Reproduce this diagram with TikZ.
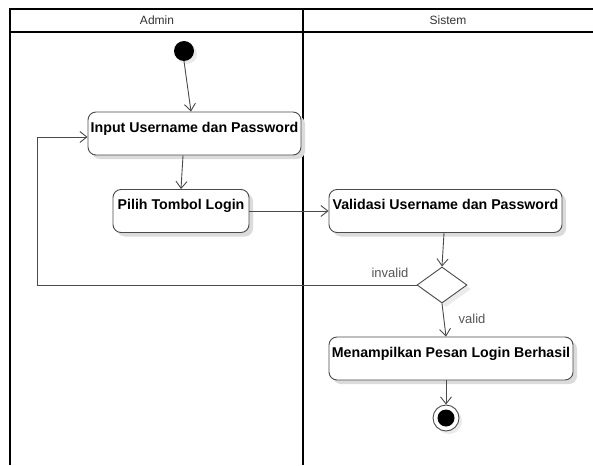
\documentclass[tikz,border=0pt]{standalone}
\usepackage{fontspec}
\setmainfont{Liberation Sans}
\usetikzlibrary{arrows.meta,shapes.geometric,shadows,calc}
\definecolor{edge}{HTML}{4A4A4A}
\definecolor{lbl}{HTML}{555555}
\tikzset{
  lane/.style={draw=black,line width=1.4pt},
  act/.style={draw=edge,line width=0.9pt,rounded corners=8pt,fill=white,
    drop shadow={fill=black!14,shadow xshift=4pt,shadow yshift=-4pt,opacity=1},
    font=\fontsize{14.2}{16}\selectfont\bfseries,inner xsep=0pt,inner ysep=4pt,
    text height=16pt,text depth=19pt,minimum height=43pt},
  arr/.style={draw=edge,line width=0.9pt,-{Straight Barb[length=7pt,width=11pt]}},
  flow/.style={draw=edge,line width=0.9pt},
  hdr/.style={font=\fontsize{12}{14}\selectfont,text=black!80},
  glabel/.style={font=\fontsize{13}{15}\selectfont,text=lbl},
}
\begin{document}
\begin{tikzpicture}[x=1pt,y=-1pt]
\useasboundingbox[fill=white] (0,0) rectangle (593,465);
% swimlanes
\draw[lane] (10,465) -- (10,9) -- (595,9);
\draw[lane] (10,32) -- (595,32);
\draw[lane] (303,9) -- (303,465);
\node[hdr] (hadmin) at (157,20) {Admin};
\node[hdr] (hsistem) at (448,20) {Sistem};
% nodes
\node[circle,fill=black,minimum size=20pt,inner sep=0pt,
  drop shadow={fill=black!8,shadow xshift=3pt,shadow yshift=-3pt,opacity=1}] (start) at (184,51) {};
\node[act,minimum width=213pt] (input) at (194.5,133.5) {Input Username dan Password};
\node[act,minimum width=136pt] (pilih) at (181,211) {Pilih Tombol Login};
\node[act,minimum width=233pt] (valid) at (445.5,211) {Validasi Username dan Password};
\node[diamond,draw=edge,line width=0.9pt,fill=white,minimum width=50pt,minimum height=36pt,inner sep=0pt,
  drop shadow={fill=black!8,shadow xshift=4pt,shadow yshift=-4pt,opacity=1}] (dec) at (442,285) {};
\node[act,minimum width=244pt] (show) at (451,358.5) {Menampilkan Pesan Login Berhasil};
\node[circle,draw=edge,line width=0.9pt,fill=white,minimum size=26pt,inner sep=0pt,
  drop shadow={fill=black!8,shadow xshift=3pt,shadow yshift=-3pt,opacity=1}] (stop) at (446,418) {};
\node[circle,fill=black,minimum size=17pt,inner sep=0pt] (stopin) at (stop) {};
\coordinate (loop) at (37,285);
% connectors
\draw[arr] (start.south) -- ([xshift=-3.5pt]input.north);
\draw[arr] ([xshift=-11.5pt]input.south) -- (pilih.north);
\draw[arr] (pilih.east) -- (pilih.east -| valid.west);
\draw[arr] ([xshift=-1.5pt]valid.south) -- (dec.north);
\draw[flow] (dec.west) -- (loop);
\draw[arr] (loop) |- ([yshift=-3.5pt]input.west);
\draw[arr] (dec.south) -- ([xshift=-5pt]show.north);
\draw[arr] ([xshift=-5pt]show.south) -- (stop.north);
\node[glabel] (linvalid) at (390,273) {invalid};
\node[glabel] (lvalid) at (472,319) {valid};
\end{tikzpicture}
\end{document}
